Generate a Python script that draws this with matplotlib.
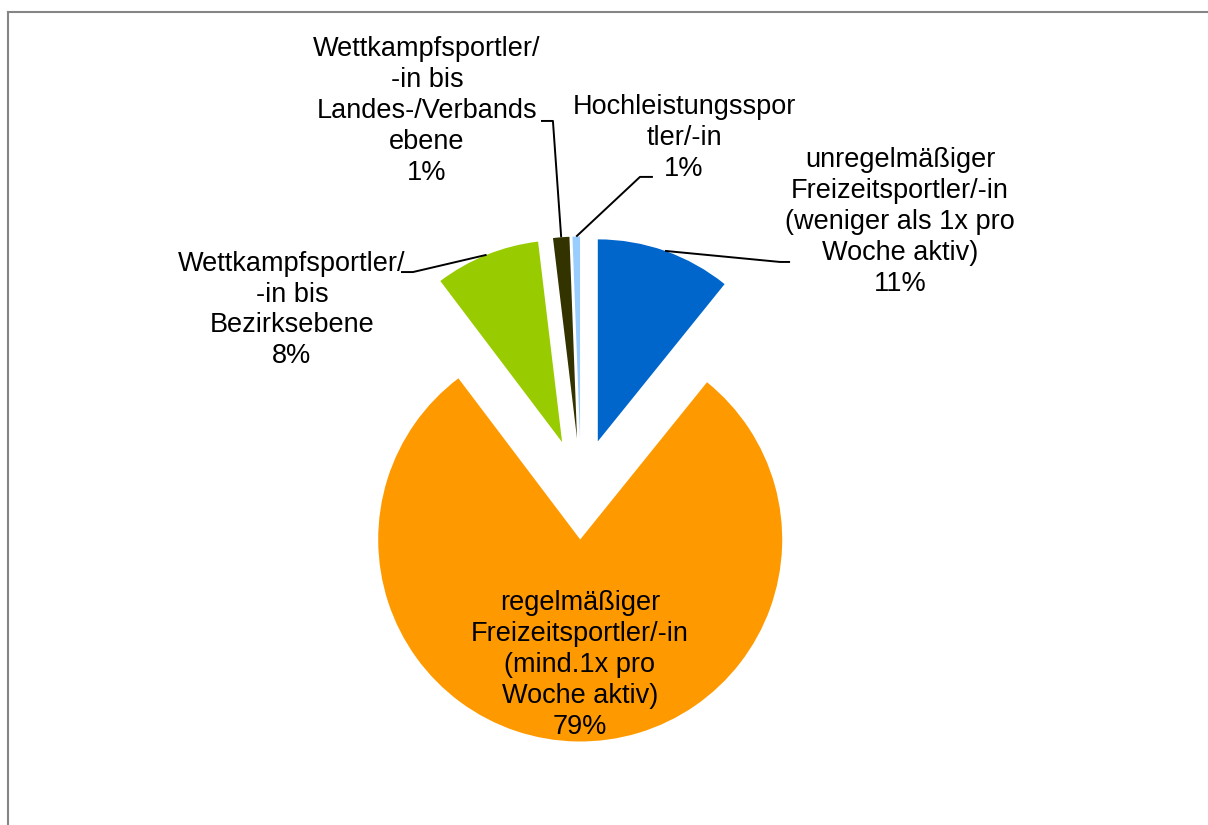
import numpy as np
import matplotlib
matplotlib.use("Agg")
import matplotlib.pyplot as plt
from matplotlib.lines import Line2D

plt.rcParams['font.family'] = ['Liberation Sans', 'DejaVu Sans']

# Data (clockwise from 12 o'clock)
categories = [
    "unregelmäßiger\nFreizeitsportler/-in\n(weniger als 1x pro\nWoche aktiv)",
    "regelmäßiger\nFreizeitsportler/-in\n(mind.1x pro\nWoche aktiv)",
    "Wettkampfsportler/\n-in bis\nBezirksebene",
    "Wettkampfsportler/\n-in bis\nLandes-/Verbands\nebene",
    "Hochleistungsspor\ntler/-in",
]
shares = [10.8, 78.9, 8.4, 1.3, 0.6]
colors = ["#0066CC", "#FF9900", "#99CC00", "#333300", "#99CCFF"]

explode_frac = 0.25

# label layout (data units, radius = 1)
label_pos = [(1.58, 1.322), (-0.005, -0.871), (-1.431, 0.886), (-0.762, 1.871), (0.51, 1.738)]
# leader line points near the label (elbow, end); None = no leader line
leader_pts = [
    [(0.985, 1.124), (1.035, 1.124)],
    None,
    [(-0.832, 1.074), (-0.891, 1.074)],
    [(-0.139, 1.822), (-0.198, 1.822)],
    [(0.292, 1.545), (0.356, 1.545)],
]

W, H = 1208, 825
fig = plt.figure(figsize=(W / 100, H / 100), dpi=100)
ax = fig.add_axes([0, 0, 1, 1])

wedges, _ = ax.pie(shares, colors=colors, startangle=90, counterclock=False,
                   explode=[explode_frac] * len(shares), radius=1.0,
                   wedgeprops=dict(linewidth=0))

# pixel scale: center at (581, 489) from top, radius 202 px
cx, cy, rpx = 581, 489, 202
ax.set_xlim(-cx / rpx, (W - cx) / rpx)
ax.set_ylim(-(H - cy) / rpx, cy / rpx)
ax.set_aspect('auto')
ax.axis('off')

total = sum(shares)
start = 90.0
for i, (cat, val) in enumerate(zip(categories, shares)):
    sweep = 360.0 * val / total
    mid = np.deg2rad(start - sweep / 2)
    start -= sweep
    ox, oy = explode_frac * np.cos(mid), explode_frac * np.sin(mid)
    ax.text(label_pos[i][0], label_pos[i][1], f"{cat}\n{val:.0f}%",
            ha='center', va='center', fontsize=19.5, linespacing=1.24,
            color='black')
    if leader_pts[i] is not None:
        pts = [(ox + np.cos(mid), oy + np.sin(mid))] + leader_pts[i]
        xs, ys = zip(*pts)
        ax.plot(xs, ys, color='black', lw=1.4, solid_capstyle='butt')

# chart frame (only left and top edges visible)
fig.add_artist(Line2D([8 / W, 8 / W], [0, 1 - 12 / H], color='#868686', lw=1.5))
fig.add_artist(Line2D([8 / W, 1], [1 - 12 / H, 1 - 12 / H], color='#868686', lw=1.5))

fig.savefig("out.png", dpi=100, facecolor='white')
